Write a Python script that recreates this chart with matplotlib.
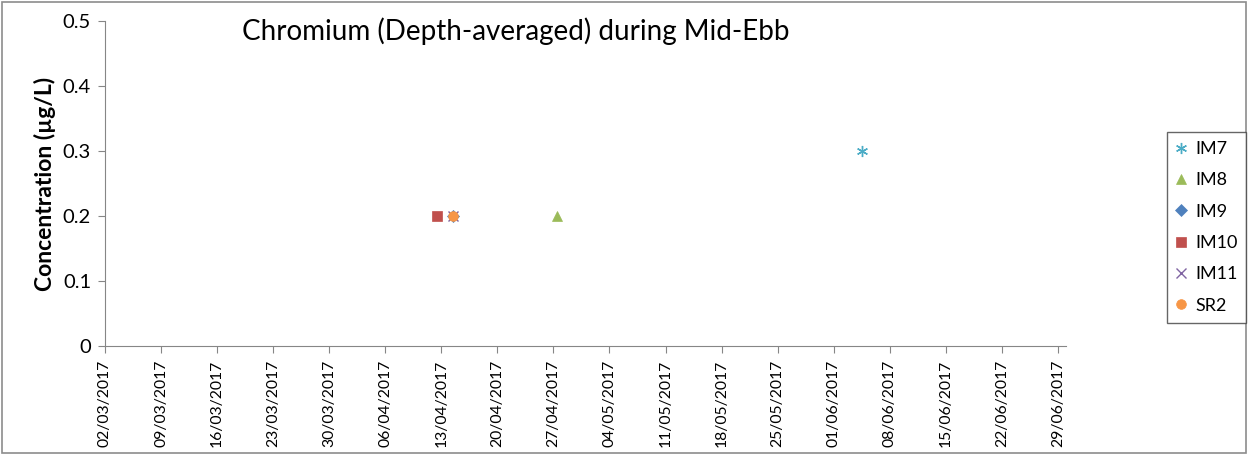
import pandas as pd
import matplotlib.pyplot as plt
import matplotlib.dates as mdates
from matplotlib.patches import Rectangle

# -----------------------------
# DATA
# -----------------------------
stations = ["IM7", "IM8", "IM9", "IM10", "IM11", "SR2"]
sample_dates = ["2017-06-04", "2017-04-27", "2017-04-14", "2017-04-12", "2017-04-14", "2017-04-14"]
chromium = [0.3, 0.2, 0.2, 0.2, 0.2, 0.2]

tick_dates = pd.date_range("2017-03-02", "2017-06-29", freq="7D")

colors = ["#4BACC6", "#9BBB59", "#4F81BD", "#C0504D", "#8064A2", "#F79646"]
markers = [(6, 2, 0), "^", "D", "s", "x", "o"]
sizes = [8, 7, 6, 7, 7, 7]

plt.rcParams['font.family'] = ['Lato', 'DejaVu Sans']

# -----------------------------
# PLOT
# -----------------------------
fig = plt.figure(figsize=(12.48, 4.54), dpi=100)
ax = fig.add_axes([0.0841, 0.2379, 0.77, 0.7158])

# Excel puts date points in the middle of the day
half_day = pd.Timedelta(hours=12)
for name, d, v, c, m, s in zip(stations, sample_dates, chromium, colors, markers, sizes):
    ax.plot([pd.Timestamp(d) + half_day], [v], linestyle="none", marker=m,
            color=c, markersize=s, markeredgewidth=1.0 if m in ("x", (6, 2, 0)) else 0.5,
            label=name)

ax.set_xlim(pd.Timestamp("2017-03-02"), pd.Timestamp("2017-06-30"))
ax.set_ylim(0, 0.5)
ax.set_xticks(tick_dates)
ax.xaxis.set_major_formatter(mdates.DateFormatter("%d/%m/%Y"))
ax.set_yticks([0, 0.1, 0.2, 0.3, 0.4, 0.5])
ax.set_yticklabels(["0", "0.1", "0.2", "0.3", "0.4", "0.5"])
plt.setp(ax.get_xticklabels(), rotation=90)

ax.tick_params(axis="x", labelsize=11.3, length=5, color="#868686", pad=5)
ax.tick_params(axis="y", labelsize=14.5, length=5, color="#868686", pad=5)

for side in ["top", "right"]:
    ax.spines[side].set_visible(False)
for side in ["left", "bottom"]:
    ax.spines[side].set_color("#868686")

ax.set_ylabel("Concentration (µg/L)", fontsize=16.5, fontweight="bold", labelpad=5)
ax.text(0.428, 0.97, "Chromium (Depth-averaged) during Mid-Ebb", transform=ax.transAxes,
        ha="center", va="center", fontsize=20)

leg = fig.legend(loc="upper left", bbox_to_anchor=(0.9351, 0.7093), frameon=True,
                 fancybox=False, fontsize=13, handlelength=0.6, handletextpad=0.45,
                 labelspacing=0.85, borderpad=0.5, borderaxespad=0)
leg.get_frame().set_edgecolor("#404040")
leg.get_frame().set_linewidth(1.0)

# outer chart border
fig.patches.append(Rectangle((0.002, 0.003), 0.996, 0.993, transform=fig.transFigure,
                             fill=False, edgecolor="#8c8c8c", linewidth=1.2))

plt.savefig("out.png", dpi=100)
